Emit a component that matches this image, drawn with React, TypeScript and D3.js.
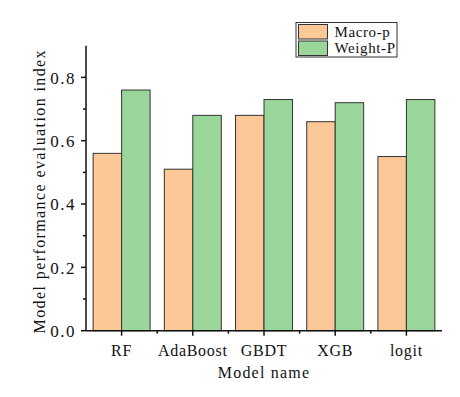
import React, { useEffect, useRef } from "react";
import * as d3 from "d3";

const models = ["RF", "AdaBoost", "GBDT", "XGB", "logit"];
const macroP = [0.56, 0.51, 0.68, 0.66, 0.55];
const weightP = [0.76, 0.68, 0.73, 0.72, 0.73];
const seriesNames = ["Macro-p", "Weight-P"];
const yTicks = [0, 0.2, 0.4, 0.6, 0.8];
const yMinorTicks = [0.1, 0.3, 0.5, 0.7];

const colors = ["#fdc897", "#9ad69a"];
const font = "'Liberation Serif', 'DejaVu Serif', serif";

export default function App() {
  const ref = useRef<SVGSVGElement>(null);

  useEffect(() => {
    const svg = d3.select(ref.current);
    svg.selectAll("*").remove();

    // Plot area
    const left = 86,
      right = 442,
      top = 45.7,
      bottom = 330.7;

    const x = d3
      .scaleBand()
      .domain(models)
      .range([left, right])
      .paddingInner(0.2)
      .paddingOuter(0.1);
    const xCenter = d3.scaleBand().domain(models).range([left, right]);
    const y = d3.scaleLinear().domain([0, 0.9]).range([bottom, top]);

    const data = models.map((m, i) => ({ key: m, values: [macroP[i], weightP[i]] }));
    const half = x.bandwidth() / 2;

    // Bars
    const groups = svg
      .append("g")
      .selectAll("g")
      .data(data)
      .enter()
      .append("g")
      .attr("transform", (d) => `translate(${x(d.key)}, 0)`);

    groups
      .selectAll("rect")
      .data((d) => d.values)
      .enter()
      .append("rect")
      .attr("x", (d, i) => i * half)
      .attr("y", (d) => y(d))
      .attr("width", half)
      .attr("height", (d) => bottom - y(d))
      .attr("fill", (d, i) => colors[i])
      .attr("stroke", "#333")
      .attr("stroke-width", 1);

    // Y axis
    const axisColor = "#111";
    svg
      .append("line")
      .attr("x1", left)
      .attr("x2", left)
      .attr("y1", top)
      .attr("y2", bottom)
      .attr("stroke", axisColor)
      .attr("stroke-width", 1.5);

    svg
      .append("g")
      .selectAll("line")
      .data(yTicks)
      .enter()
      .append("line")
      .attr("x1", left - 5)
      .attr("x2", left)
      .attr("y1", (d) => y(d))
      .attr("y2", (d) => y(d))
      .attr("stroke", axisColor)
      .attr("stroke-width", 1.5);

    svg
      .append("g")
      .selectAll("line")
      .data(yMinorTicks)
      .enter()
      .append("line")
      .attr("x1", left - 3)
      .attr("x2", left)
      .attr("y1", (d) => y(d))
      .attr("y2", (d) => y(d))
      .attr("stroke", axisColor)
      .attr("stroke-width", 1.5);

    svg
      .append("g")
      .selectAll("text")
      .data(yTicks)
      .enter()
      .append("text")
      .attr("x", left - 10)
      .attr("y", (d) => y(d))
      .attr("dy", "0.38em")
      .attr("text-anchor", "end")
      .attr("font-family", font)
      .attr("font-size", 17)
      .attr("letter-spacing", 1.5)
      .attr("fill", "#111")
      .text((d) => d.toFixed(1));

    // X axis
    svg
      .append("line")
      .attr("x1", left)
      .attr("x2", right)
      .attr("y1", bottom)
      .attr("y2", bottom)
      .attr("stroke", axisColor)
      .attr("stroke-width", 1.5);

    svg
      .append("g")
      .selectAll("line")
      .data(models)
      .enter()
      .append("line")
      .attr("x1", (d) => xCenter(d) + xCenter.bandwidth() / 2)
      .attr("x2", (d) => xCenter(d) + xCenter.bandwidth() / 2)
      .attr("y1", bottom)
      .attr("y2", bottom + 5)
      .attr("stroke", axisColor)
      .attr("stroke-width", 1.5);

    svg
      .append("g")
      .selectAll("line")
      .data(models.slice(1))
      .enter()
      .append("line")
      .attr("x1", (d) => xCenter(d))
      .attr("x2", (d) => xCenter(d))
      .attr("y1", bottom)
      .attr("y2", bottom + 3)
      .attr("stroke", axisColor)
      .attr("stroke-width", 1.5);

    svg
      .append("g")
      .selectAll("text")
      .data(models)
      .enter()
      .append("text")
      .attr("x", (d) => xCenter(d) + xCenter.bandwidth() / 2)
      .attr("y", 355.5)
      .attr("text-anchor", "middle")
      .attr("font-family", font)
      .attr("font-size", 16)
      .attr("letter-spacing", 0.7)
      .attr("fill", "#111")
      .text((d) => d);

    // Axis titles
    svg
      .append("text")
      .attr("x", (left + right) / 2)
      .attr("y", 378)
      .attr("text-anchor", "middle")
      .attr("font-family", font)
      .attr("font-size", 16)
      .attr("letter-spacing", 1.2)
      .attr("fill", "#111")
      .text("Model name");

    svg
      .append("text")
      .attr("transform", `translate(45, ${(top + bottom) / 2 + 3}) rotate(-90)`)
      .attr("text-anchor", "middle")
      .attr("font-family", font)
      .attr("font-size", 16)
      .attr("letter-spacing", 1.4)
      .attr("fill", "#111")
      .text("Model performance evaluation index");

    // Legend
    const legend = svg.append("g").attr("transform", "translate(296, 22.5)");
    legend
      .append("rect")
      .attr("width", 101)
      .attr("height", 34.5)
      .attr("fill", "#fff")
      .attr("stroke", "#333")
      .attr("stroke-width", 1);

    const items = legend
      .selectAll(".item")
      .data(seriesNames)
      .enter()
      .append("g")
      .attr("class", "item")
      .attr("transform", (d, i) => `translate(2.5, ${2 + i * 16.5})`);

    items
      .append("rect")
      .attr("width", 29)
      .attr("height", 14.5)
      .attr("fill", (d, i) => colors[i])
      .attr("stroke", "#333")
      .attr("stroke-width", 1);

    items
      .append("text")
      .attr("x", 36)
      .attr("y", 12)
      .attr("font-family", font)
      .attr("font-size", 15)
      .attr("letter-spacing", 0.6)
      .attr("fill", "#111")
      .text((d) => d);
  }, []);

  return (
    <svg
      ref={ref}
      width={460}
      height={397}
      style={{ position: "absolute", left: 0, top: 0, background: "#fff" }}
    ></svg>
  );
}
